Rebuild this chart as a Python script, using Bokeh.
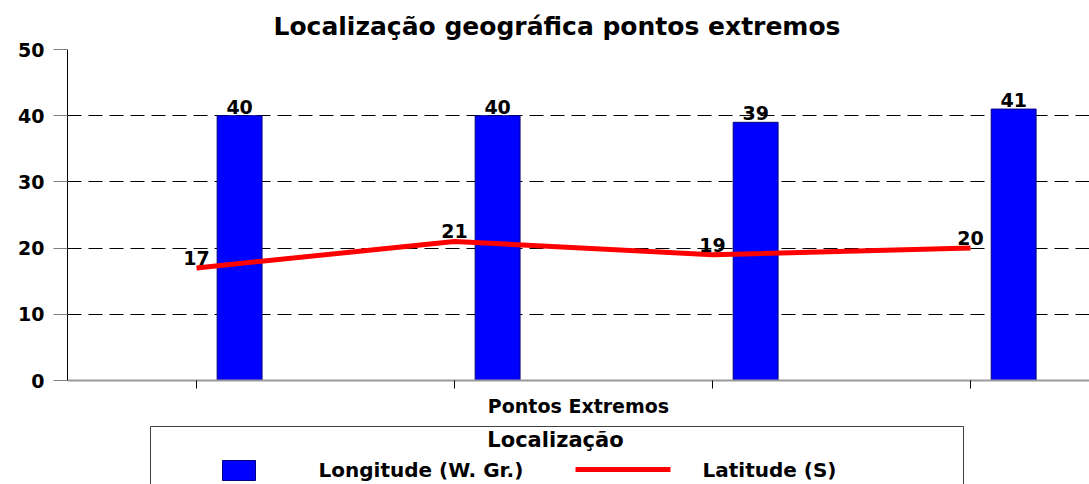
from bokeh.plotting import figure
from bokeh.models import ColumnDataSource, Range1d, FixedTicker, Title
from bokeh.transform import dodge
from bokeh.layouts import column
from bokeh.embed import file_html
from bokeh.resources import INLINE
from bokeh.core.properties import value

# ---- data ----
pontos = [1, 2, 3, 4]                # four extreme points (unlabelled categories)
longitude = [40, 40, 39, 41]         # Longitude (W. Gr.)
latitude = [17, 21, 19, 20]          # Latitude (S)
y_ticks = [0, 10, 20, 30, 40, 50]

FONT = value("DejaVu Sans")
LBL = "19px"

src = ColumnDataSource(dict(
    x=pontos,
    lon=longitude,
    lat=latitude,
    lon_txt=[str(v) for v in longitude],
    lat_txt=[str(v) for v in latitude],
))

p = figure(width=1089, height=420,
           x_range=Range1d(0.5, 4.461), y_range=Range1d(0, 50),
           output_backend="svg", toolbar_location=None,
           min_border_left=67, min_border_right=0,
           min_border_top=49, min_border_bottom=40)
p.outline_line_color = None
p.background_fill_color = "white"

t = Title(text="Localização geográfica pontos extremos", align="left", offset=206,
          text_font="DejaVu Sans", text_font_size="25px",
          text_font_style="bold", text_color="black", standoff=17)
p.add_layout(t, "above")

# axes
p.yaxis.ticker = FixedTicker(ticks=y_ticks)
p.yaxis.major_tick_out = 14
p.yaxis.major_tick_in = 0
p.yaxis.minor_tick_line_color = None
p.yaxis.major_tick_line_color = "#808080"
p.yaxis.axis_line_color = "black"
p.yaxis.major_label_text_font = "DejaVu Sans"
p.yaxis.major_label_text_font_style = "bold"
p.yaxis.major_label_text_font_size = LBL
p.yaxis.major_label_text_color = "black"
p.yaxis.major_label_standoff = 9

p.xaxis.ticker = FixedTicker(ticks=pontos)
p.xaxis.major_tick_out = 8
p.xaxis.major_tick_in = 0
p.xaxis.minor_tick_line_color = None
p.xaxis.major_tick_line_color = "black"
p.xaxis.axis_line_color = "#9a9a9a"
p.xaxis.axis_line_width = 2
p.xaxis.major_label_overrides = {k: "" for k in pontos}
p.xaxis.major_label_text_font_size = "10px"
p.xaxis.axis_label = "Pontos Extremos"
p.xaxis.axis_label_text_font = "DejaVu Sans"
p.xaxis.axis_label_text_font_style = "bold"
p.xaxis.axis_label_text_font_size = LBL
p.xaxis.axis_label_text_color = "black"
p.xaxis.axis_label_standoff = 6

p.xgrid.grid_line_color = None
p.ygrid.grid_line_color = "black"
p.ygrid.grid_line_dash = "14 7"
p.ygrid.grid_line_width = 1

# bars (Longitude), offset right of the category tick
p.vbar(x=dodge("x", 0.167, range=p.x_range), top="lon", bottom=0, width=0.174,
       source=src, fill_color="#0000FF", line_color="#000080", line_width=1)

# line (Latitude)
p.line(x="x", y="lat", source=src, line_color="#FF0000", line_width=5)

# data labels
p.text(x=dodge("x", 0.167, range=p.x_range), y="lon", text="lon_txt", source=src,
       text_align="center", text_baseline="bottom", y_offset=-2,
       text_font=FONT, text_font_style="bold", text_font_size=LBL, text_color="black")
p.text(x="x", y="lat", text="lat_txt", source=src,
       text_align="center", text_baseline="bottom", y_offset=-3,
       text_font=FONT, text_font_style="bold", text_font_size=LBL, text_color="black")

# ---- legend panel (pixel coordinates of the page) ----
leg = figure(width=1089, height=64, x_range=Range1d(67, 1089), y_range=Range1d(484, 420),
             output_backend="svg", toolbar_location=None,
             min_border_left=67, min_border_right=0, min_border_top=0, min_border_bottom=0)
leg.axis.visible = False
leg.xgrid.visible = False
leg.ygrid.visible = False
leg.outline_line_color = None

leg.quad(left=[150], right=[963], top=[426], bottom=[510],
         fill_color=None, line_color="#404040", line_width=1)
leg.text(x=[555], y=[439], text=["Localização"], text_align="center", text_baseline="middle",
         text_font=FONT, text_font_style="bold", text_font_size="21px", text_color="black")
leg.quad(left=[222], right=[255], top=[460], bottom=[480],
         fill_color="#0000FF", line_color="#000080", line_width=1)
leg.text(x=[318], y=[469], text=["Longitude (W. Gr.)"], text_align="left", text_baseline="middle",
         text_font=FONT, text_font_style="bold", text_font_size="20px", text_color="black")
leg.line(x=[575, 670], y=[469, 469], line_color="#FF0000", line_width=5)
leg.text(x=[702], y=[469], text=["Latitude (S)"], text_align="left", text_baseline="middle",
         text_font=FONT, text_font_style="bold", text_font_size="20px", text_color="black")

layout = column(p, leg, spacing=0)
open("out.html", "w").write(file_html(layout, INLINE))
